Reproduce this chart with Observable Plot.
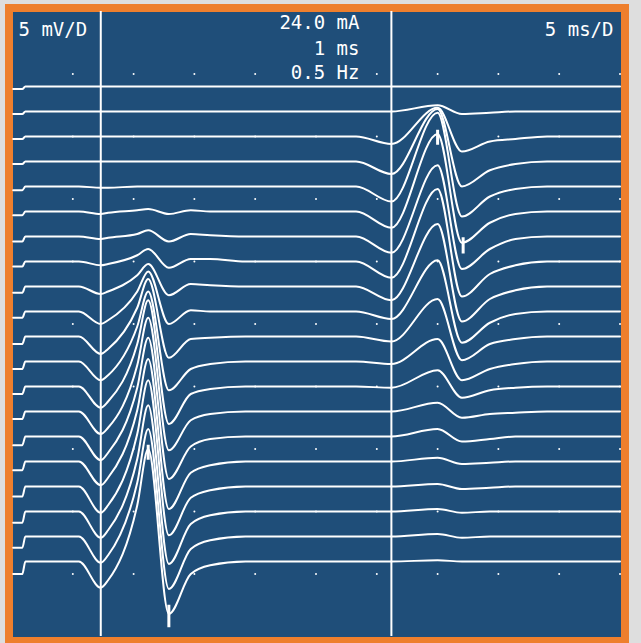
<!DOCTYPE html>
<html><head><meta charset="utf-8">
<script src="https://cdn.jsdelivr.net/npm/d3@7"></script>
<script src="https://cdn.jsdelivr.net/npm/@observablehq/plot@0.6"></script>
<style>
html,body{margin:0;padding:0;background:#dedede;width:641px;height:643px;overflow:hidden;}
#frame{position:absolute;left:5px;top:4px;width:624px;height:645px;background:#ee7f2d;}
#screen{position:absolute;left:13px;top:12px;width:608px;height:625px;background:#1f4e79;}
#chart{position:absolute;left:0;top:0;}
</style></head><body>
<div id="frame"></div><div id="screen"></div><div id="chart"></div>
<script>
// Time (ms) of the key points read along each sweep
const keyTimes = [0.1, 0.85, 1.1, 5.5, 7.3, 7.9, 10.3, 11.2, 12.9, 14.7, 16.3, 19.2, 28.3, 31.2, 35.0, 37.0, 39.3, 41.4, 44.0, 50.0];
// Baseline of each of the 20 sweeps (mV on the 50 mV screen)
const baselines = [44, 42, 40, 38, 36, 34, 32, 30, 28, 26, 24, 22, 20, 18, 16, 14, 12, 10, 8, 6];
// Stimulus artefact level before the step (mV)
const stepLevel = [-0.2,-0.2,-0.2,-0.2,-0.3,-0.3,-0.4,-0.4,-0.5,-0.5,-0.6,-0.6,-0.6,-0.6,-0.7,-0.7,-0.8,-0.9,-0.9,-1.0];
// M wave: dip, lift, rise, peak, trough, recovery points (mV)
const mDip    = [0,0,0,0,-0.1,-0.2,-0.2,-0.3,-0.6,-1.0,-1.4,-1.5,-1.7,-1.8,-1.9,-1.9,-2.1,-2.1,-2.1,-2.1];
const mLift   = [0,0,0,0,-0.1,-0.1,-0.1,-0.2,-0.4,-0.7,-1.0,-1.1,-1.2,-1.3,-1.3,-1.3,-1.5,-1.5,-1.5,-1.5];
const mRise   = [0,0,0,0,0,0.1,0.2,0.5,0.9,1.6,2.3,2.8,3.4,3.7,3.9,4.1,4.2,4.2,4.3,4.5];
const mPeak   = [0,0,0,0,0,0.2,0.5,1.0,1.8,3.2,4.6,5.6,6.9,7.5,7.9,8.2,8.5,8.5,8.6,9.0];
const mTrough = [0,0,0,0,0,-0.2,-0.4,-0.5,-0.7,-1.0,-1.7,-2.3,-3.0,-3.1,-3.4,-3.8,-3.9,-4.2,-4.2,-4.2];
const mRec1   = [0,0,0,0,0,0.1,0.2,0.2,0.2,0.1,-0.2,-0.6,-0.6,-0.7,-0.8,-0.9,-0.9,-1.0,-1.0,-1.0];
const mRec2   = [0,0,0,0,0,0,0.1,0.2,0.1,0,-0.1,-0.2,-0.2,-0.2,-0.2,-0.3,-0.3,-0.3,-0.3,-0.3];
// H reflex: dip, peak, trough, recovery points (mV)
const hDip    = [0,0,-0.6,-1.0,-1.2,-1.3,-1.3,-1.3,-1.1,-0.6,-0.4,-0.2,-0.1,0,0,0,0,0,0,0];
const hPeak   = [0,0.5,2.3,4.2,5.9,6.2,5.7,5.8,5.0,4.1,3.0,1.8,1.3,0.7,0.6,0.3,0.2,0.2,0.2,0.1];
const hTrough = [0,-0.2,-1.2,-2.0,-2.4,-2.5,-2.6,-2.8,-2.8,-2.5,-1.9,-1.5,-0.9,-0.5,-0.4,-0.2,-0.2,-0.1,-0.1,0];
const hRec1   = [0,-0.1,-0.4,-0.7,-0.8,-0.9,-1.0,-1.0,-1.0,-0.9,-0.6,-0.6,-0.3,-0.2,-0.2,-0.1,-0.1,0,0,0];
const hRec2   = [0,0,-0.2,-0.2,-0.2,-0.2,-0.2,-0.3,-0.3,-0.2,-0.2,-0.2,-0.1,-0.1,0,0,0,0,0,0];
// Cursor lines (ms)
const cursorTimes = [7.3, 31.2];
// Latency markers: time (ms), from / to (mV)
const markerTimes = [11.2, 12.9, 35.0, 37.1];
const markerLow   = [14.1, 0.7, 39.3, 30.6];
const markerHigh  = [15.3, 2.5, 40.5, 31.9];
// Screen graticule (ms, mV)
const gridTimes  = [5, 10, 15, 20, 25, 30, 35, 40, 45, 50];
const gridLevels = [5, 10, 15, 20, 25, 30, 35, 40, 45];
// Screen texts
const gainLabel = "5 mV/D";
const sweepLabel = "5 ms/D";
const stimLabels = ["24.0 mA", "1 ms", "0.5 Hz"];

const rows = [];
baselines.forEach((b, k) => {
  const vals = [stepLevel[k], stepLevel[k], 0, 0, mDip[k], mLift[k], mRise[k], mPeak[k], mTrough[k], mRec1[k], mRec2[k], 0,
                0, hDip[k], hPeak[k], hTrough[k], hRec1[k], hRec2[k], 0, 0];
  keyTimes.forEach((t, i) => rows.push({k, t, v: b + vals[i]}));
});
const grid = [];
gridTimes.forEach(t => gridLevels.forEach(v => grid.push({t, v})));
const markers = markerTimes.map((t, i) => ({t, lo: markerLow[i], hi: markerHigh[i]}));

const font = {fill: "white", fontSize: 19, fontFamily: "DejaVu Sans Mono", lineAnchor: "bottom", frameAnchor: "top-left"};
const plot = Plot.plot({
  width: 641, height: 643, margin: 0,
  x: {domain: [0, 50], range: [11.5, 619.5], axis: null},
  y: {domain: [0, 50], range: [636, 11], axis: null},
  style: {background: "transparent"},
  marks: [
    Plot.dot(grid, {x: "t", y: "v", r: 1, fill: "white", stroke: null}),
    Plot.ruleX(cursorTimes, {x: d => d, y1: 0, y2: 50, stroke: "white", strokeWidth: 2}),
    Plot.line(rows, {x: "t", y: "v", z: "k", stroke: "white", strokeWidth: 2, curve: "monotone-x"}),
    Plot.ruleX(markers, {x: "t", y1: "lo", y2: "hi", stroke: "white", strokeWidth: 3}),
    Plot.text([gainLabel], {...font, text: d => d, dx: 18, dy: 35, textAnchor: "start"}),
    Plot.text([sweepLabel], {...font, text: d => d, dx: 613, dy: 35, textAnchor: "end"}),
    Plot.text([stimLabels[0]], {...font, text: d => d, dx: 359, dy: 28, textAnchor: "end"}),
    Plot.text([stimLabels[1]], {...font, text: d => d, dx: 359, dy: 54, textAnchor: "end"}),
    Plot.text([stimLabels[2]], {...font, text: d => d, dx: 359, dy: 78, textAnchor: "end"})
  ]
});
document.getElementById("chart").appendChild(plot);
</script>
</body></html>
